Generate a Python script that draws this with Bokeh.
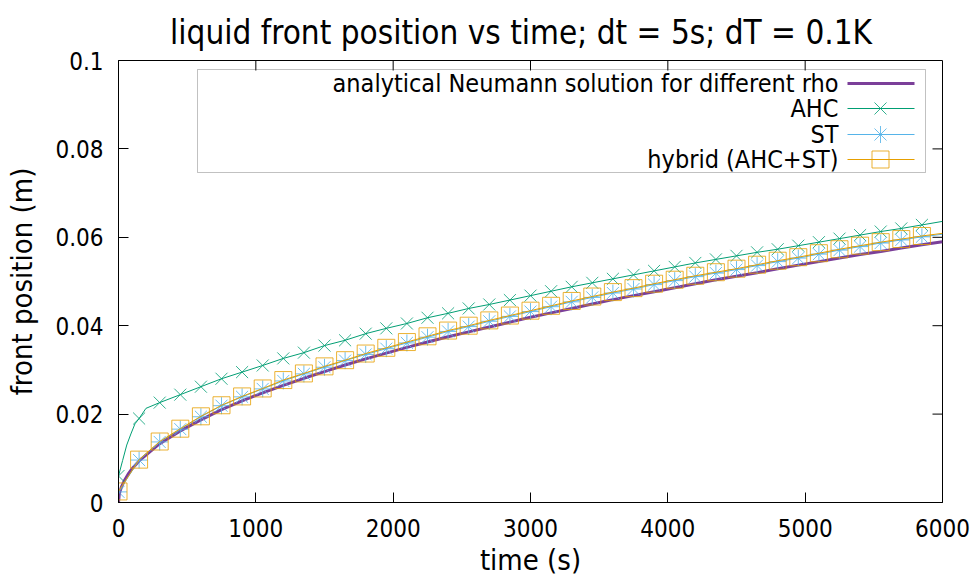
from bokeh.plotting import figure
from bokeh.models import Range1d, FixedTicker, Label, BoxAnnotation
from bokeh.embed import file_html
from bokeh.resources import INLINE

FONT = "DejaVu Sans Condensed"

TITLE = "liquid front position vs time;  dt = 5s;  dT = 0.1K"
X_LABEL = "time (s)"
Y_LABEL = "front position (m)"

x_ticks = [0, 1000, 2000, 3000, 4000, 5000, 6000]
x_tick_labels = ["0", "1000", "2000", "3000", "4000", "5000", "6000"]
y_ticks = [0, 0.02, 0.04, 0.06, 0.08, 0.1]
y_tick_labels = ["0", "0.02", "0.04", "0.06", "0.08", "0.1"]
X_MIN, X_MAX = 0, 6000
Y_MIN, Y_MAX = 0, 0.1

# sample times (markers every 150 s)
time_s = [0, 150, 300, 450, 600, 750, 900, 1050, 1200, 1350, 1500, 1650, 1800,
          1950, 2100, 2250, 2400, 2550, 2700, 2850, 3000, 3150, 3300, 3450, 3600,
          3750, 3900, 4050, 4200, 4350, 4500, 4650, 4800, 4950, 5100, 5250, 5400,
          5550, 5700, 5850, 6000]

# analytical Neumann solution
analytical_time = [0, 5, 10, 20, 40, 70, 100, 150, 300, 450, 600, 750, 900, 1050,
                   1200, 1350, 1500, 1650, 1800, 1950, 2100, 2250, 2400, 2550, 2700,
                   2850, 3000, 3150, 3300, 3450, 3600, 3750, 3900, 4050, 4200, 4350,
                   4500, 4650, 4800, 4950, 5100, 5250, 5400, 5550, 5700, 5850, 6000]
analytical_pos = [0.0, 0.0017, 0.0024, 0.0034, 0.0048, 0.0064, 0.0077, 0.0094, 0.0133,
                  0.0162, 0.0187, 0.0210, 0.0230, 0.0248, 0.0265, 0.0281, 0.0296,
                  0.0311, 0.0325, 0.0338, 0.0351, 0.0363, 0.0375, 0.0386, 0.0397,
                  0.0408, 0.0419, 0.0429, 0.0439, 0.0449, 0.0459, 0.0468, 0.0477,
                  0.0486, 0.0495, 0.0504, 0.0512, 0.0520, 0.0529, 0.0537, 0.0545,
                  0.0553, 0.0561, 0.0568, 0.0576, 0.0583, 0.0590]

# AHC
ahc_pos = [0.0060, 0.0190, 0.0226, 0.0244, 0.0262, 0.0280, 0.0295, 0.0310, 0.0326,
           0.0339, 0.0355, 0.0367, 0.0382, 0.0394, 0.0405, 0.0418, 0.0428, 0.0439,
           0.0448, 0.0458, 0.0468, 0.0478, 0.0488, 0.0497, 0.0506, 0.0515, 0.0524,
           0.0533, 0.0542, 0.0550, 0.0558, 0.0566, 0.0573, 0.0581, 0.0589, 0.0597,
           0.0605, 0.0613, 0.0620, 0.0628, 0.0636]
ahc_early_time = [30, 60, 90, 120, 200]
ahc_early_pos = [0.0095, 0.0130, 0.0155, 0.0178, 0.0213]

# hybrid (AHC+ST)
hybrid_pos = [0.0025, 0.0097, 0.0138, 0.0167, 0.0195, 0.0220, 0.0240, 0.0258, 0.0277,
              0.0292, 0.0308, 0.0322, 0.0337, 0.0350, 0.0363, 0.0376, 0.0389, 0.0400,
              0.0412, 0.0423, 0.0434, 0.0445, 0.0456, 0.0466, 0.0476, 0.0485, 0.0495,
              0.0504, 0.0513, 0.0521, 0.0529, 0.0538, 0.0547, 0.0555, 0.0564, 0.0573,
              0.0581, 0.0589, 0.0596, 0.0603, 0.0609]

# ST
st_pos = [0.0024, 0.0096, 0.0137, 0.0166, 0.0194, 0.0219, 0.0239, 0.0257, 0.0275,
          0.0291, 0.0306, 0.0321, 0.0335, 0.0348, 0.0361, 0.0374, 0.0387, 0.0398,
          0.0410, 0.0421, 0.0432, 0.0443, 0.0454, 0.0464, 0.0474, 0.0483, 0.0493,
          0.0502, 0.0511, 0.0519, 0.0527, 0.0536, 0.0545, 0.0553, 0.0562, 0.0571,
          0.0579, 0.0587, 0.0594, 0.0601, 0.0607]

legend_labels = ["analytical Neumann solution for different rho", "AHC", "ST",
                 "hybrid (AHC+ST)"]

C_AN = "#7b3f99"
C_AHC = "#009e73"
C_ST = "#56b4e9"
C_HY = "#e69f00"

N_MARK = 40  # markers shown for the first 40 samples

FRAME_W, FRAME_H = 824, 442

p = figure(width=975, height=579, output_backend="svg", toolbar_location=None,
           x_range=Range1d(X_MIN, X_MAX), y_range=Range1d(Y_MIN, Y_MAX),
           min_border_left=118, min_border_right=33, min_border_top=60,
           min_border_bottom=77, title=TITLE)
p.background_fill_color = "white"
p.border_fill_color = "white"
p.outline_line_color = "black"
p.outline_line_width = 1
p.grid.visible = False

p.title.text_font = FONT
p.title.text_font_size = "33px"
p.title.text_font_style = "normal"
p.title.align = "center"
p.title.text_color = "black"
p.title.standoff = 18

for ax in (p.xaxis[0], p.yaxis[0]):
    ax.major_label_text_font = FONT
    ax.major_label_text_font_size = "24px"
    ax.major_label_text_color = "black"
    ax.axis_label_text_font = FONT
    ax.axis_label_text_font_size = "29px"
    ax.axis_label_text_font_style = "normal"
    ax.axis_label_text_color = "black"
    ax.major_tick_in = 10
    ax.major_tick_out = 0
    ax.minor_tick_line_color = None
    ax.axis_line_color = "black"
    ax.major_tick_line_color = "black"

p.xaxis[0].ticker = FixedTicker(ticks=x_ticks)
p.xaxis[0].major_label_overrides = dict(zip(x_ticks, x_tick_labels))
p.xaxis[0].axis_label = X_LABEL
p.xaxis[0].major_label_standoff = 16
p.xaxis[0].axis_label_standoff = 3
p.yaxis[0].ticker = FixedTicker(ticks=y_ticks)
p.yaxis[0].major_label_overrides = dict(zip(y_ticks, y_tick_labels))
p.yaxis[0].axis_label = Y_LABEL
p.yaxis[0].major_label_standoff = 15
p.yaxis[0].axis_label_standoff = 13

# frame-pixel coordinate system for mirrored ticks and the legend
p.extra_x_ranges = {"px": Range1d(0, FRAME_W)}
p.extra_y_ranges = {"py": Range1d(0, FRAME_H)}

# mirrored ticks on top and right borders (positions derived from the tick arrays)
xt_px = [(t - X_MIN) / (X_MAX - X_MIN) * FRAME_W for t in x_ticks[1:-1]]
yt_px = [(v - Y_MIN) / (Y_MAX - Y_MIN) * FRAME_H for v in y_ticks[1:-1]]
p.segment(x0=xt_px, x1=xt_px, y0=[FRAME_H] * len(xt_px), y1=[FRAME_H - 10] * len(xt_px),
          line_color="black", line_width=1, x_range_name="px", y_range_name="py")
p.segment(x0=[FRAME_W] * len(yt_px), x1=[FRAME_W - 10] * len(yt_px), y0=yt_px, y1=yt_px,
          line_color="black", line_width=1, x_range_name="px", y_range_name="py")

# data
p.line(analytical_time, analytical_pos, line_color=C_AN, line_width=3)

ahc_line = sorted(list(zip(time_s, ahc_pos)) + list(zip(ahc_early_time, ahc_early_pos)))
p.line([a for a, b in ahc_line], [b for a, b in ahc_line], line_color=C_AHC, line_width=1)
p.scatter(time_s[:N_MARK], ahc_pos[:N_MARK], marker="x", size=17, line_color=C_AHC,
          line_alpha=0.8, line_width=1)

p.line(time_s, st_pos, line_color=C_ST, line_width=1)
p.scatter(time_s[:N_MARK], st_pos[:N_MARK], marker="asterisk", size=17, line_color=C_ST,
          line_alpha=0.85, line_width=1)

p.line(time_s, hybrid_pos, line_color=C_HY, line_width=1)
p.scatter(time_s[:N_MARK], hybrid_pos[:N_MARK], marker="square", size=17,
          line_color=C_HY, fill_color=None, line_alpha=0.8, line_width=1)

# legend
p.add_layout(BoxAnnotation(left=79, right=807, bottom=330, top=433,
                           x_range_name="px", y_range_name="py",
                           fill_alpha=0, line_color="#333333", line_width=1))
rows = [419, 394, 368, 343]
colors = [C_AN, C_AHC, C_ST, C_HY]
widths = [3, 1, 1, 1]
for lab, yy, c, w in zip(legend_labels, rows, colors, widths):
    p.segment(x0=[729], x1=[796], y0=[yy], y1=[yy], line_color=c, line_width=w,
              x_range_name="px", y_range_name="py")
    p.add_layout(Label(x=720, y=yy, text=lab, text_align="right", text_baseline="middle",
                       text_font=FONT, text_font_size="25px", text_color="black",
                       x_range_name="px", y_range_name="py"))
p.scatter([762], [rows[1]], marker="x", size=17, line_color=C_AHC, line_alpha=0.8,
          x_range_name="px", y_range_name="py")
p.scatter([762], [rows[2]], marker="asterisk", size=17, line_color=C_ST, line_alpha=0.85,
          x_range_name="px", y_range_name="py")
p.scatter([762], [rows[3]], marker="square", size=17, line_color=C_HY, fill_color=None,
          line_alpha=0.8, x_range_name="px", y_range_name="py")

open("out.html", "w").write(file_html(p, INLINE))
